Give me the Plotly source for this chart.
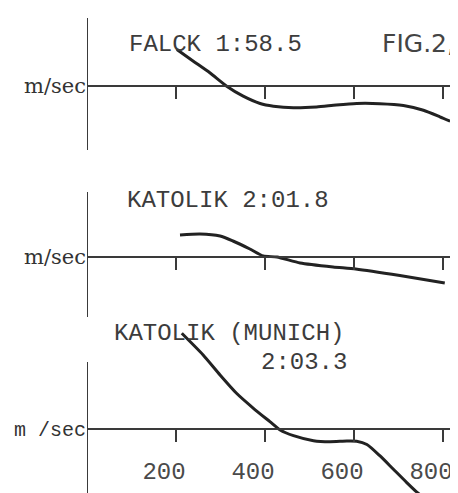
import plotly.graph_objects as go

# ---- data (relative speed deviation, arbitrary units, vs distance in m) ----
falck_dist = [202, 239, 276, 314, 351, 389, 419, 464, 516, 560, 606, 658, 711, 756, 793, 816]
falck_dev = [3.6, 2.43, 1.27, -0.07, -1.07, -1.8, -2.07, -2.23, -2.15, -1.95, -1.8, -1.82, -2.0, -2.47, -3.13, -3.57]

katolik_dist = [209, 254, 299, 328, 366, 396, 427, 479, 553, 604, 703, 804]
katolik_dev = [2.2, 2.3, 2.1, 1.6, 0.8, 0.1, 0.0, -0.6, -1.0, -1.2, -1.85, -2.6]

munich_dist = [213, 261, 299, 336, 374, 411, 434, 464, 509, 546, 584, 606, 629, 658, 688, 718, 741, 760]
munich_dev = [9.57, 7.4, 5.4, 3.57, 2.07, 0.73, -0.1, -0.67, -1.17, -1.27, -1.2, -1.22, -1.55, -2.67, -4.0, -5.33, -6.3, -7.0]

tick_vals = [200, 400, 600, 800]
tick_text = ["200", "400", "600", "800"]

titles = ["FALCK 1:58.5", "KATOLIK 2:01.8", "KATOLIK (MUNICH)", "2:03.3"]
fig_label = "FIG.2,"
unit_labels = ["m/sec", "m/sec", "m /sec"]

# ---- figure (page body has an 8px margin, so the figure is 8px smaller) ----
W, H = 450, 485
ink = "#222222"
axis_ink = "#3a3a3a"
text_ink = "#3c3c3c"
mono = "Liberation Mono, DejaVu Sans Mono, monospace"
serif = "DejaVu Serif, Liberation Serif, serif"

fig = go.Figure()
series = [(falck_dist, falck_dev, "x", "y"),
          (katolik_dist, katolik_dev, "x2", "y2"),
          (munich_dist, munich_dev, "x3", "y3")]
for xs, ys, xa, ya in series:
    fig.add_trace(go.Scatter(x=xs, y=ys, xaxis=xa, yaxis=ya, mode="lines",
                             line=dict(color=ink, width=3, shape="spline", smoothing=0.6),
                             showlegend=False, hoverinfo="skip"))

xrange = [0, 818]
panels = [
    dict(domain=[0.7072, 0.9794], rng=[-6.45, 6.75], pos=0.8402, labels=False, vtop=1.0),
    dict(domain=[0.3629, 0.6206], rng=[-6.0, 6.5], pos=0.4866, labels=False, vtop=1.0),
    dict(domain=[0.0, 0.3361], rng=[-6.4, 9.9], pos=0.1320, labels=True, vtop=0.8037),
]

layout = dict(
    width=W, height=H,
    margin=dict(l=79, r=7, t=0, b=0),
    paper_bgcolor="white", plot_bgcolor="white",
    showlegend=False,
)
shapes = []
for i, p in enumerate(panels):
    sfx = "" if i == 0 else str(i + 1)
    layout["xaxis" + sfx] = dict(
        domain=[0, 1], range=xrange, anchor="free", position=p["pos"],
        showline=True, linecolor=axis_ink, linewidth=2,
        ticks="outside", ticklen=12, tickwidth=2, tickcolor=axis_ink,
        tickvals=tick_vals, ticktext=tick_text,
        showticklabels=p["labels"], showgrid=False, zeroline=False,
        tickfont=dict(family=mono, size=24, color="#4a4a4a"),
        ticklabelstandoff=8, ticklabelshift=-12,
        automargin=False, fixedrange=True,
    )
    layout["yaxis" + sfx] = dict(
        domain=p["domain"], range=p["rng"], anchor="x" + sfx,
        showline=False, showgrid=False, zeroline=False, ticks="",
        tickvals=[0], ticktext=[unit_labels[i]],
        tickfont=dict(family=(mono if i == 2 else serif), size=(20 if i == 2 else 21),
                      color="#333333"),
        automargin=False, fixedrange=True,
    )
    shapes.append(dict(type="line", xref="x" + sfx, yref="y" + sfx + " domain",
                       x0=0, x1=0, y0=0, y1=p["vtop"],
                       line=dict(color=axis_ink, width=2)))
layout["shapes"] = shapes

ann_font = dict(family=mono, size=24, color=text_ink)
layout["annotations"] = [
    dict(text=titles[0], x=288, y=0.9557, xref="x", yref="paper", showarrow=False, font=ann_font),
    dict(text=titles[1], x=317, y=0.6041, xref="x", yref="paper", showarrow=False, font=ann_font),
    dict(text=titles[2], x=318, y=0.2959, xref="x", yref="paper", showarrow=False, font=ann_font),
    dict(text=titles[3], x=488, y=0.2381, xref="x", yref="paper", showarrow=False, font=ann_font),
    dict(text=fig_label, x=744, y=0.9608, xref="x", yref="paper", showarrow=False,
         font=dict(family="DejaVu Sans, sans-serif", size=25, color="#444444")),
]

fig.update_layout(**layout)
fig.write_html("out.html")
